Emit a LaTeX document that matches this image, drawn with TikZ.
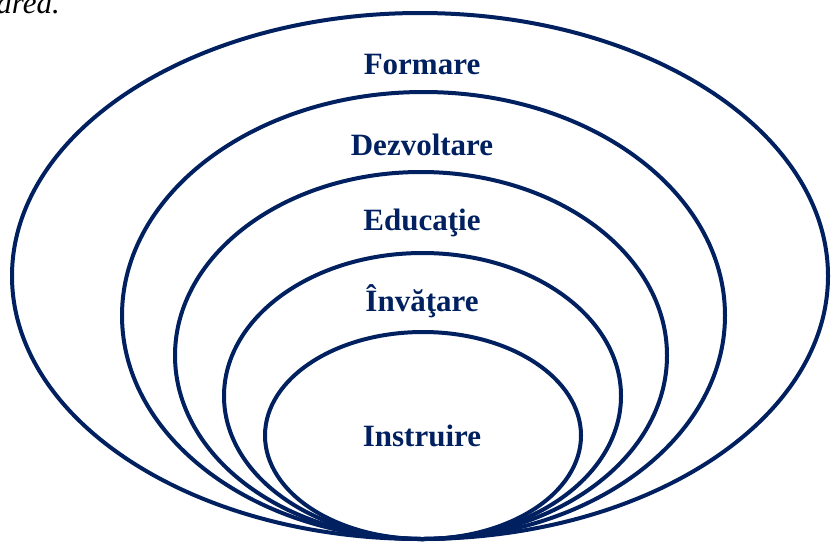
\documentclass[tikz,border=0pt]{standalone}
\usepackage{fontspec}
\setmainfont{Liberation Serif}
\definecolor{navy}{HTML}{002060}
\begin{document}
\begin{tikzpicture}[x=1pt,y=-1pt]
\tikzstyle{every node}+=[inner sep=0pt, text=navy, font=\fontsize{31}{36}\selectfont\bfseries]
\tikzstyle{ring}=[navy, line width=4pt]
\clip (0,0) rectangle (832,542);
\draw (60,13) node [anchor=base east, text=black, font=\fontsize{31}{36}\selectfont\itshape] (capt) {area.};
\draw [ring] (420,276) ellipse (408 and 263);
\draw (422,64) node (formare) {Formare};
\draw [ring] (423.5,315.5) ellipse (301.5 and 223.5);
\draw (422,145) node (dezv) {Dezvoltare};
\draw [ring] (421,355.5) ellipse (246 and 183.5);
\draw (422,223) node (educ) {Educaţie};
\draw [ring] (422.5,396) ellipse (198.5 and 143);
\draw (422,301) node (invat) {Învăţare};
\draw [ring] (423,435.5) ellipse (158 and 103.5);
\draw (422,436) node (instr) {Instruire};
\end{tikzpicture}
\end{document}
